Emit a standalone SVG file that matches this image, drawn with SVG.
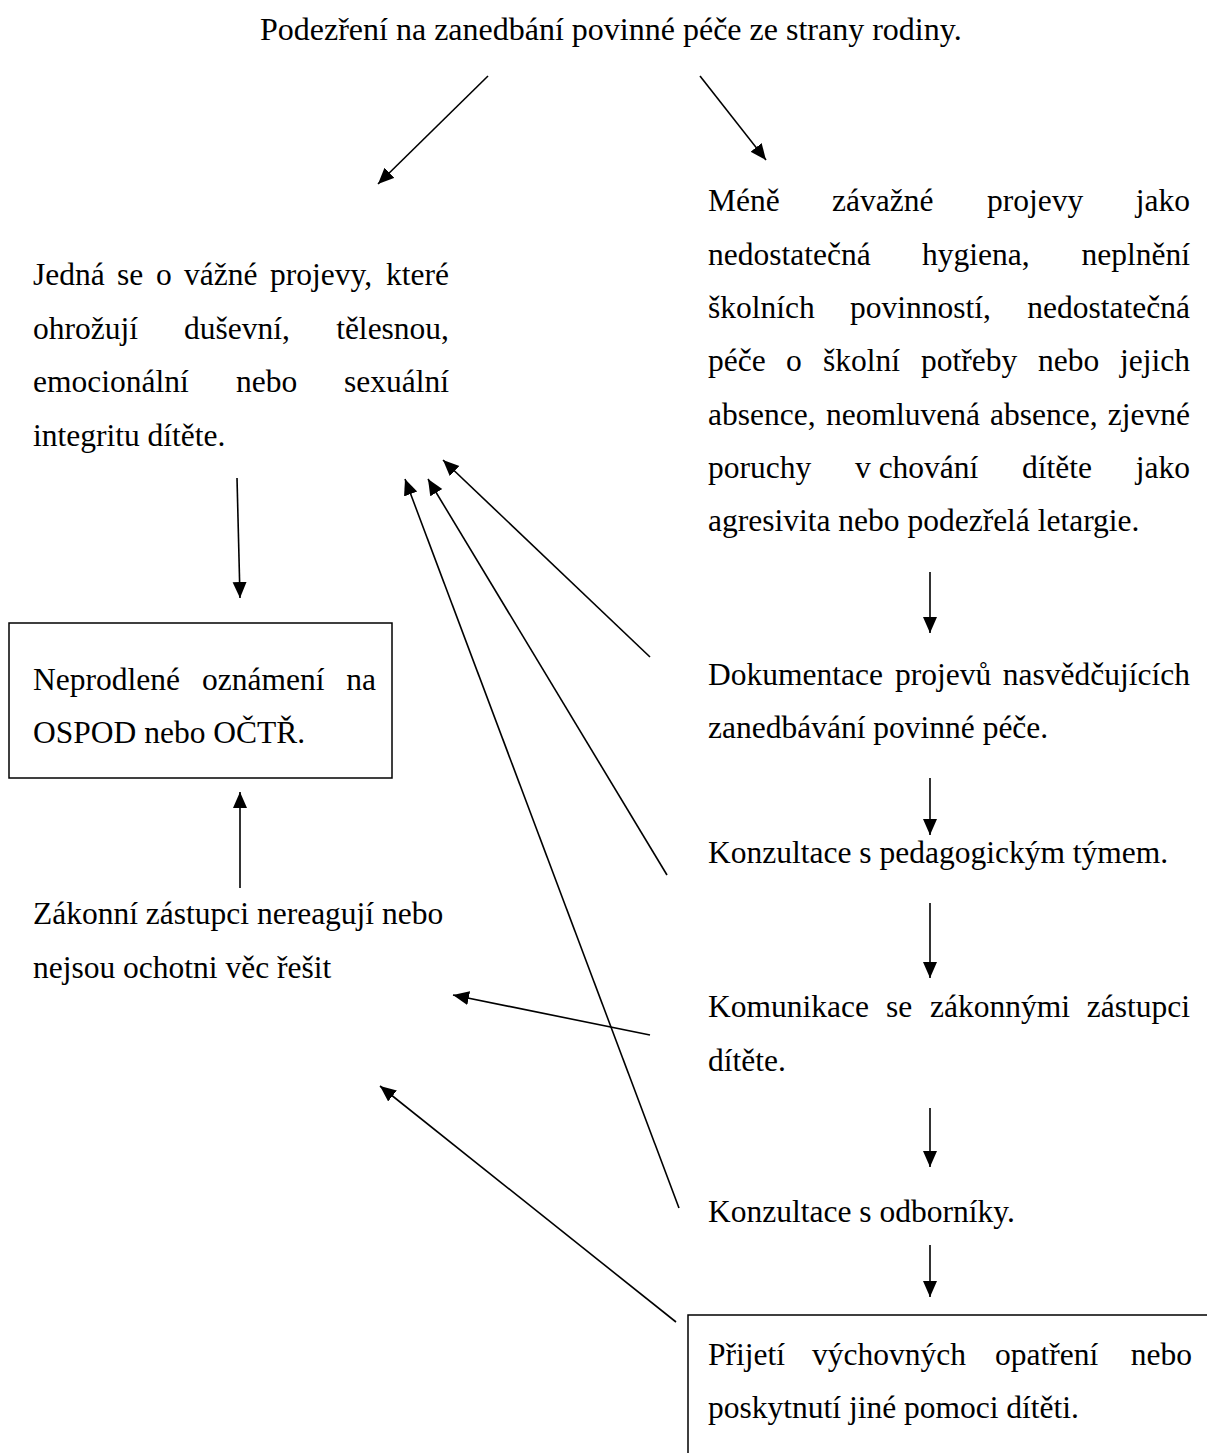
<svg xmlns="http://www.w3.org/2000/svg" width="1207" height="1453" viewBox="0 0 1207 1453">
<style>
text{font-family:"Liberation Serif","Times New Roman",serif;font-size:31.5px;fill:#000}
.e{text-anchor:end}
.box{fill:none;stroke:#000;stroke-width:1.5}
.ln{stroke:#000;stroke-width:1.6;fill:none;marker-end:url(#ah)}
</style>
<defs>
<marker id="ah" markerUnits="userSpaceOnUse" markerWidth="18" markerHeight="16" refX="16" refY="7" orient="auto">
<path d="M0,0 L16,7 L0,14 z" fill="#000"/>
</marker>
</defs>
<rect width="1207" height="1453" fill="#fff"/>

<g id="n-top">
<text x="260" y="40" style="font-size:32px">Podezření na zanedbání povinné péče ze strany rodiny.</text>
</g>

<g id="n-serious">
<text x="33" y="285">Jedná</text><text x="117" y="285">se</text><text x="156" y="285">o</text><text x="184" y="285">vážné</text><text x="270" y="285">projevy,</text><text x="449" y="285" class="e">které</text>
<text x="33" y="338.5">ohrožují</text><text x="184" y="338.5">duševní,</text><text x="449" y="338.5" class="e">tělesnou,</text>
<text x="33" y="392">emocionální</text><text x="236" y="392">nebo</text><text x="449" y="392" class="e">sexuální</text>
<text x="33" y="445.5">integritu dítěte.</text>
</g>

<g id="n-report">
<rect x="9" y="623" width="383" height="155" class="box"/>
<text x="33" y="690">Neprodlené</text><text x="202" y="690">oznámení</text><text x="376" y="690" class="e">na</text>
<text x="33" y="743">OSPOD nebo OČTŘ.</text>
</g>

<g id="n-parents">
<text x="33" y="924">Zákonní zástupci nereagují nebo</text>
<text x="33" y="978">nejsou ochotni věc řešit</text>
</g>

<g id="n-minor">
<text x="708" y="211">Méně</text><text x="832" y="211">závažné</text><text x="987" y="211">projevy</text><text x="1190" y="211" class="e">jako</text>
<text x="708" y="265">nedostatečná</text><text x="922" y="265">hygiena,</text><text x="1190" y="265" class="e">neplnění</text>
<text x="708" y="318">školních</text><text x="850" y="318">povinností,</text><text x="1190" y="318" class="e">nedostatečná</text>
<text x="708" y="371">péče</text><text x="786" y="371">o</text><text x="823" y="371">školní</text><text x="921" y="371">potřeby</text><text x="1038" y="371">nebo</text><text x="1190" y="371" class="e">jejich</text>
<text x="708" y="425">absence,</text><text x="826" y="425">neomluvená</text><text x="990" y="425">absence,</text><text x="1190" y="425" class="e">zjevné</text>
<text x="708" y="478">poruchy</text><text x="855" y="478">v chování</text><text x="1022" y="478">dítěte</text><text x="1190" y="478" class="e">jako</text>
<text x="708" y="531">agresivita nebo podezřelá letargie.</text>
</g>

<g id="n-doc">
<text x="708" y="685">Dokumentace</text><text x="895" y="685">projevů</text><text x="1190" y="685" class="e">nasvědčujících</text>
<text x="708" y="738">zanedbávání povinné péče.</text>
</g>

<g id="n-team">
<text x="708" y="863">Konzultace s pedagogickým týmem.</text>
</g>

<g id="n-comm">
<text x="708" y="1017">Komunikace</text><text x="886" y="1017">se</text><text x="930" y="1017">zákonnými</text><text x="1190" y="1017" class="e">zástupci</text>
<text x="708" y="1071">dítěte.</text>
</g>

<g id="n-experts">
<text x="708" y="1222">Konzultace s odborníky.</text>
</g>

<g id="n-measures">
<rect x="688" y="1315" width="540" height="200" class="box"/>
<text x="708" y="1365">Přijetí</text><text x="812" y="1365">výchovných</text><text x="995" y="1365">opatření</text><text x="1192" y="1365" class="e">nebo</text>
<text x="708" y="1418">poskytnutí jiné pomoci dítěti.</text>
</g>

<g id="connectors">
<line x1="488" y1="76" x2="378" y2="184" class="ln"/>
<line x1="700" y1="76" x2="766" y2="160" class="ln"/>
<line x1="237" y1="478" x2="240" y2="598" class="ln"/>
<line x1="240" y1="888" x2="240" y2="792" class="ln"/>
<line x1="650" y1="657" x2="443" y2="460" class="ln"/>
<line x1="667" y1="875" x2="428" y2="479" class="ln"/>
<line x1="679" y1="1208" x2="405" y2="479" class="ln"/>
<line x1="650" y1="1035" x2="453" y2="995" class="ln"/>
<line x1="676" y1="1322" x2="380" y2="1086" class="ln"/>
<line x1="930" y1="572" x2="930" y2="633" class="ln"/>
<line x1="930" y1="778" x2="930" y2="835" class="ln"/>
<line x1="930" y1="903" x2="930" y2="978" class="ln"/>
<line x1="930" y1="1108" x2="930" y2="1167" class="ln"/>
<line x1="930" y1="1245" x2="930" y2="1297" class="ln"/>
</g>
</svg>
